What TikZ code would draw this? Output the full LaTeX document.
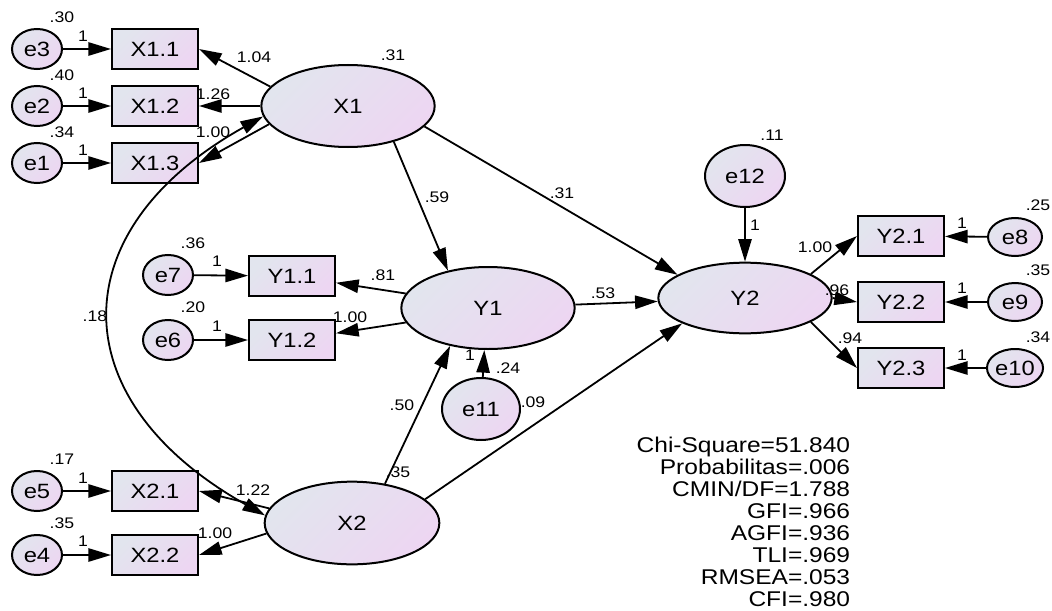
\documentclass[tikz,border=0pt]{standalone}
\usepackage{fontspec}
\setmainfont[FakeStretch=1.15]{Liberation Sans}
\usetikzlibrary{shapes.geometric,arrows.meta}
\definecolor{amosgrey}{RGB}{226,229,238}
\definecolor{amospink}{RGB}{237,214,242}

\begin{document}
\begin{tikzpicture}[x=0.75pt,y=-0.75pt,line width=1.35pt,
  amosfill/.style={left color=amosgrey,right color=amospink,shading angle=45},
  obs/.style={draw,rectangle,amosfill,line width=1.5pt,minimum width=64.5pt,minimum height=30pt,inner sep=0pt,font=\fontsize{15.5}{17}\selectfont},
  err/.style={draw,ellipse,amosfill,line width=1.5pt,minimum width=37.5pt,minimum height=30pt,inner sep=0pt,font=\fontsize{15.5}{17}\selectfont},
  lat/.style={draw,ellipse,amosfill,line width=1.5pt,minimum width=130pt,minimum height=61.5pt,inner sep=0pt,font=\fontsize{15.5}{17}\selectfont},
  lbl/.style={inner sep=0pt,font=\fontsize{11.5}{13}\selectfont},
  reg/.style={-{Triangle[length=17pt,width=10pt]}},
  cov/.style={{Triangle[length=17pt,width=10pt]}-{Triangle[length=17pt,width=10pt]}}]
\useasboundingbox (0,0) rectangle (1052,610);

\node[err] (e3) at (37,49) {e3};
\node[obs] (X11) at (155,49) {X1.1};
\node[err] (e2) at (37,106) {e2};
\node[obs] (X12) at (155,106) {X1.2};
\node[err] (e1) at (37,163) {e1};
\node[obs] (X13) at (155,163) {X1.3};
\node[lat] (X1) at (348,106) {X1};

\node[err] (e7) at (168,275) {e7};
\node[obs] (Y11) at (292,276) {Y1.1};
\node[err] (e6) at (168,340) {e6};
\node[obs] (Y12) at (292,340) {Y1.2};
\node[lat] (Y1) at (488,308) {Y1};
\node[err,minimum width=58.5pt,minimum height=46.5pt] (e11) at (481,409) {e11};

\node[err] (e5) at (37,491) {e5};
\node[obs] (X21) at (155,491) {X2.1};
\node[err] (e4) at (37,555) {e4};
\node[obs] (X22) at (155,555) {X2.2};
\node[lat,minimum width=131pt,minimum height=62pt] (X2) at (352,523) {X2};

\node[lat,minimum height=53pt] (Y2) at (745,298) {Y2};
\node[err,minimum width=60pt,minimum height=46.5pt] (e12) at (745,176) {e12};
\node[obs] (Y21) at (901,236) {Y2.1};
\node[obs] (Y22) at (901,302) {Y2.2};
\node[obs] (Y23) at (901,368) {Y2.3};
\node[err,minimum width=40.5pt,minimum height=28.5pt] (e8) at (1015,237) {e8};
\node[err,minimum width=40.5pt,minimum height=28.5pt] (e9) at (1015,302) {e9};
\node[err,minimum width=40.5pt,minimum height=28.5pt] (e10) at (1015,368) {e10};

\node[anchor=east,align=right,inner sep=0pt,font=\fontsize{16}{16.5}\selectfont] (fit) at (851,522)
  {Chi-Square=51.840\\Probabilitas=.006\\CMIN/DF=1.788\\GFI=.966\\AGFI=.936\\TLI=.969\\RMSEA=.053\\CFI=.980};

\draw[reg] (e3) -- (X11);
\draw[reg] (e2) -- (X12);
\draw[reg] (e1) -- (X13);
\draw[reg] (e5) -- (X21);
\draw[reg] (e4) -- (X22);
\draw[reg] (e7) -- (Y11);
\draw[reg] (e6) -- (Y12);
\draw[reg] (e8) -- (Y21);
\draw[reg] (e9) -- (Y22);
\draw[reg] (e10) -- (Y23);
\draw[reg] (e12) -- (Y2);
\draw[reg] (e11) -- (Y1.-95);

\draw[reg] (X1.166) -- (X11.east);
\draw[reg] (X1) -- (X12);
\draw[reg] (X1.193) -- (X13.east);
\draw[reg] (X2.170) -- (X21.east);
\draw[reg] (X2.187) -- (X22.east);
\draw[reg] (Y1.170) -- (Y11);
\draw[reg] (Y1.190) -- (Y12);
\draw[reg] (Y2.20) -- (Y21.west);
\draw[reg] (Y2.east) -- (Y22.west);
\draw[reg] (Y2.-20) -- (Y23.west);

\draw[reg] (X1.-38) -- (Y1.137);
\draw[reg] (X1.-15) -- (Y2.161);
\draw[reg] (X2.50) -- (Y1.-135);
\draw[reg] (X2.18) -- (Y2.-158);
\draw[reg] (Y1) -- (Y2);
\draw[cov] (X1.187) .. controls (60,230) and (60,400) .. (X2.175);

\foreach \x/\y/\t [count=\i] in {62/17/.30,62/75/.40,62/132/.34,62/459/.17,62/523/.35,
  193/243/.36,193/307/.20,393/55/.31,398/472/.35,508/368/.24,533/402/.09,772/135/.11,
  1038/205/.25,1038/270/.35,1038/337/.34,
  83/36/1,83/93/1,83/150/1,83/478/1,83/541/1,217/261/1,217/326/1,
  962/223/1,962/288/1,962/355/1,755/225/1,470/355/1,
  254/57/1.04,213/94/1.26,213/132/1.00,253/490/1.22,215/533/1.00,95/316/.18,
  383/275/.81,350/317/1.00,437/197/.59,562/193/.31,603/293/.53,402/405/.50,
  815/247/1.00,837/290/.96,850/338/.94}
  \node[lbl] (lab\i) at (\x,\y) {\t};
\end{tikzpicture}
\end{document}
